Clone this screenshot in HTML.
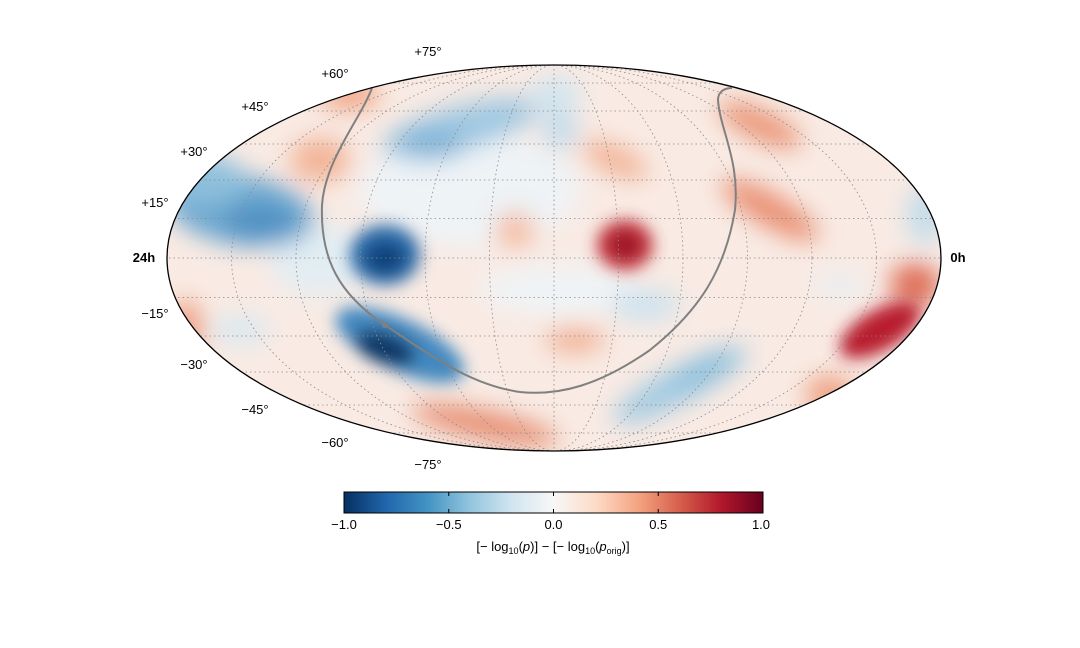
<!DOCTYPE html>
<html><head><meta charset="utf-8"><style>
body{margin:0;background:#fff;}
svg{display:block;font-family:"Liberation Sans","DejaVu Sans",sans-serif;}
</style></head><body>
<svg width="1080" height="648" viewBox="0 0 1080 648" xmlns="http://www.w3.org/2000/svg">
<defs>
<clipPath id="e"><ellipse cx="554" cy="258" rx="387" ry="193"/></clipPath>
<filter id="bl" x="-50%" y="-50%" width="200%" height="200%"><feGaussianBlur stdDeviation="12"/></filter>
<filter id="bl2" x="-50%" y="-50%" width="200%" height="200%"><feGaussianBlur stdDeviation="8"/></filter>
<linearGradient id="cb" x1="0" x2="1" y1="0" y2="0">
<stop offset="0" stop-color="#053061"/><stop offset="0.1" stop-color="#2166ac"/><stop offset="0.2" stop-color="#4393c3"/><stop offset="0.3" stop-color="#92c5de"/><stop offset="0.4" stop-color="#d1e5f0"/><stop offset="0.5" stop-color="#f7f7f7"/><stop offset="0.6" stop-color="#fddbc7"/><stop offset="0.7" stop-color="#f4a582"/><stop offset="0.8" stop-color="#d6604d"/><stop offset="0.9" stop-color="#b2182b"/><stop offset="1" stop-color="#67001f"/>
</linearGradient>
</defs>
<g clip-path="url(#e)">
<rect x="160" y="60" width="790" height="400" fill="#f9ebe4"/>
<g filter="url(#bl)">
<!-- pale / white regions -->
<ellipse cx="470" cy="190" rx="110" ry="55" fill="#eef3f6"/>
<ellipse cx="320" cy="260" rx="50" ry="35" fill="#e2edf3"/>
<ellipse cx="560" cy="290" rx="80" ry="25" fill="#eff3f5"/>
<!-- blues -->
<ellipse cx="240" cy="210" rx="75" ry="35" fill="#6ba6cf" transform="rotate(10 240 210)"/>
<ellipse cx="205" cy="180" rx="40" ry="25" fill="#8ec0dc"/>
<ellipse cx="260" cy="222" rx="35" ry="15" fill="#4d8fc3"/>
<ellipse cx="460" cy="128" rx="80" ry="22" fill="#9fc8e1" transform="rotate(-15 460 128)"/>
<ellipse cx="430" cy="145" rx="35" ry="15" fill="#7eb3d7"/>
<ellipse cx="555" cy="95" rx="25" ry="20" fill="#d3e5ef"/>
<ellipse cx="560" cy="130" rx="18" ry="20" fill="#c4dcea"/>
<ellipse cx="680" cy="385" rx="75" ry="18" fill="#a3cbe2" transform="rotate(-28 680 385)"/>
<ellipse cx="705" cy="370" rx="35" ry="12" fill="#8dbfdc" transform="rotate(-28 705 370)"/>
<ellipse cx="645" cy="305" rx="35" ry="16" fill="#cde2ee"/>
<ellipse cx="240" cy="330" rx="30" ry="13" fill="#d7e8f1"/>
<ellipse cx="925" cy="215" rx="18" ry="30" fill="#c3dcea"/>
<ellipse cx="840" cy="285" rx="25" ry="10" fill="#e4eef3"/>
<!-- reds -->
<ellipse cx="320" cy="160" rx="30" ry="22" fill="#f2b497"/>
<ellipse cx="350" cy="95" rx="30" ry="15" fill="#f0a686"/>
<ellipse cx="760" cy="125" rx="45" ry="15" fill="#ea9577" transform="rotate(25 760 125)"/>
<ellipse cx="770" cy="210" rx="55" ry="16" fill="#e98f72" transform="rotate(30 770 210)"/>
<ellipse cx="615" cy="160" rx="35" ry="14" fill="#f2b396" transform="rotate(25 615 160)"/>
<ellipse cx="915" cy="285" rx="25" ry="22" fill="#dd6d56"/>
<ellipse cx="485" cy="425" rx="75" ry="14" fill="#e68c70" transform="rotate(12 485 425)"/>
<ellipse cx="515" cy="230" rx="20" ry="18" fill="#f4bba0"/>
<ellipse cx="575" cy="340" rx="30" ry="12" fill="#f1ae92"/>
<ellipse cx="185" cy="330" rx="18" ry="30" fill="#eea083"/>
<ellipse cx="830" cy="395" rx="25" ry="20" fill="#eea386"/>
</g>
<g filter="url(#bl2)">
<ellipse cx="385" cy="255" rx="35" ry="30" fill="#2a6aa8"/>
<ellipse cx="385" cy="258" rx="20" ry="15" fill="#0f4178"/>
<ellipse cx="400" cy="345" rx="70" ry="26" fill="#4288c0" transform="rotate(25 400 345)"/>
<ellipse cx="385" cy="348" rx="32" ry="16" fill="#0d3768" transform="rotate(20 385 348)"/>
<ellipse cx="625" cy="245" rx="28" ry="25" fill="#c0303a"/>
<ellipse cx="625" cy="245" rx="14" ry="12" fill="#981028"/>
<ellipse cx="880" cy="330" rx="45" ry="20" fill="#b81d2e" transform="rotate(-30 880 330)"/>
</g>
</g>
<g fill="none" stroke="#888" stroke-width="0.8" stroke-dasharray="1.5,3" clip-path="url(#e)">
<line x1="160" y1="218.5" x2="950" y2="218.5"/><line x1="160" y1="297.5" x2="950" y2="297.5"/>
<line x1="160" y1="180" x2="950" y2="180"/><line x1="160" y1="336" x2="950" y2="336"/>
<line x1="160" y1="144" x2="950" y2="144"/><line x1="160" y1="372" x2="950" y2="372"/>
<line x1="160" y1="111" x2="950" y2="111"/><line x1="160" y1="405" x2="950" y2="405"/>
<line x1="160" y1="83" x2="950" y2="83"/><line x1="160" y1="433" x2="950" y2="433"/>
<line x1="160" y1="258" x2="950" y2="258"/>
<line x1="554" y1="60" x2="554" y2="460"/>
<ellipse cx="554" cy="258" rx="64.5" ry="193"/><ellipse cx="554" cy="258" rx="129" ry="193"/>
<ellipse cx="554" cy="258" rx="193.5" ry="193"/><ellipse cx="554" cy="258" rx="258" ry="193"/>
<ellipse cx="554" cy="258" rx="322.5" ry="193"/>
</g>
<path d="M372,88 C360,120 325,160 322,205 C320,260 340,295 385,325 C430,355 470,385 520,392 C560,396 600,385 650,350 C700,310 725,270 735,210 C740,160 720,130 718,100 C718,92 724,88 732,88" fill="none" stroke="#808080" stroke-width="2"/>
<circle cx="385" cy="325" r="3" fill="#808080"/>
<ellipse cx="554" cy="258" rx="387" ry="193" fill="none" stroke="#000" stroke-width="1.3"/>
<g font-size="13" fill="#000">
<text x="428" y="56" text-anchor="middle">+75°</text>
<text x="335" y="78" text-anchor="middle">+60°</text>
<text x="255" y="111" text-anchor="middle">+45°</text>
<text x="194" y="156" text-anchor="middle">+30°</text>
<text x="155" y="207" text-anchor="middle">+15°</text>
<text x="155" y="318" text-anchor="middle">−15°</text>
<text x="194" y="369" text-anchor="middle">−30°</text>
<text x="255" y="414" text-anchor="middle">−45°</text>
<text x="335" y="447" text-anchor="middle">−60°</text>
<text x="428" y="469" text-anchor="middle">−75°</text>
<text x="144" y="262" text-anchor="middle" font-weight="bold">24h</text>
<text x="958" y="262" text-anchor="middle" font-weight="bold">0h</text>
</g>
<rect x="344" y="492" width="419" height="21" fill="url(#cb)" stroke="#000" stroke-width="1"/>
<g stroke="#000" stroke-width="1">
<line x1="448.75" y1="492" x2="448.75" y2="496"/><line x1="553.5" y1="492" x2="553.5" y2="496"/><line x1="658.25" y1="492" x2="658.25" y2="496"/>
<line x1="448.75" y1="513" x2="448.75" y2="509"/><line x1="553.5" y1="513" x2="553.5" y2="509"/><line x1="658.25" y1="513" x2="658.25" y2="509"/>
</g>
<g font-size="13" fill="#000" text-anchor="middle">
<text x="344" y="529">−1.0</text><text x="448.75" y="529">−0.5</text><text x="553.5" y="529">0.0</text><text x="658.25" y="529">0.5</text><text x="761" y="529">1.0</text>
<text x="553" y="551">[− log<tspan font-size="9" dy="3">10</tspan><tspan dy="-3">(</tspan><tspan font-style="italic">p</tspan>)] − [− log<tspan font-size="9" dy="3">10</tspan><tspan dy="-3">(</tspan><tspan font-style="italic">p</tspan><tspan font-size="9" dy="3">orig</tspan><tspan dy="-3">)]</tspan></text>
</g>
</svg>
</body></html>
